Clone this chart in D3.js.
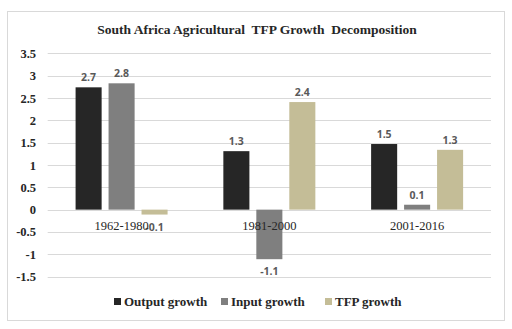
<!DOCTYPE html>
<html><head><meta charset="utf-8">
<script src="https://cdn.jsdelivr.net/npm/d3@7"></script>
<style>body{margin:0;background:#fff}</style>
</head><body><svg id="c" width="512" height="329"></svg>
<script>
const categories = ["1962-1980", "1981-2000", "2001-2016"];
const seriesNames = ["Output growth", "Input growth", "TFP growth"];
const outputGrowth = [2.74, 1.31, 1.47];
const inputGrowth = [2.83, -1.11, 0.11];
const tfpGrowth = [-0.11, 2.41, 1.34];
const labelsOutput = ["2.7", "1.3", "1.5"];
const labelsInput = ["2.8", "-1.1", "0.1"];
const labelsTfp = ["-0.1", "2.4", "1.3"];
const yTicks = [-1.5, -1, -0.5, 0, 0.5, 1, 1.5, 2, 2.5, 3, 3.5];
const colors = ["#262626", "#7f7f7f", "#c4bd97"];

const svg = d3.select("#c");
svg.append("rect").attr("x", 7.5).attr("y", 11.5).attr("width", 497).attr("height", 309)
  .attr("fill", "#fff").attr("stroke", "#d9d9d9");

const x0 = d3.scaleBand().domain(categories).range([47.7, 491]);
const x1 = d3.scaleBand().domain(seriesNames).range([0, 92]).paddingInner(0.21);
const y = d3.scaleLinear().domain([-1.5, 3.5]).range([276.6, 53.4]);

svg.append("g").selectAll("line").data(yTicks).join("line")
  .attr("x1", 47.7).attr("x2", 491).attr("y1", d => Math.round(y(d)) + 0.5).attr("y2", d => Math.round(y(d)) + 0.5)
  .attr("stroke", "#d9d9d9").attr("stroke-width", 1);

const yAxis = d3.axisLeft(y).tickValues(yTicks).tickSize(0).tickPadding(0).tickFormat(d => String(d));
const ya = svg.append("g").attr("transform", "translate(36,0)").call(yAxis);
ya.select(".domain").remove();
ya.selectAll("text").attr("font-family", "Liberation Serif").attr("font-weight", "bold")
  .attr("font-size", 12.5).attr("fill", "#262626");

const data = [outputGrowth, inputGrowth, tfpGrowth];
const labels = [labelsOutput, labelsInput, labelsTfp];
const rows = [];
categories.forEach((c, i) => seriesNames.forEach((s, j) => rows.push({c, s, j, v: data[j][i], l: labels[j][i]})));

const off = d => x0(d.c) + (x0.bandwidth() - 92) / 2 + x1(d.s);

svg.append("g").selectAll("rect").data(rows).join("rect")
  .attr("x", d => off(d)).attr("width", x1.bandwidth())
  .attr("y", d => y(Math.max(0, d.v))).attr("height", d => Math.abs(y(d.v) - y(0)))
  .attr("fill", d => colors[d.j]);

// value labels
svg.append("g").selectAll("text").data(rows).join("text")
  .attr("x", d => off(d) + x1.bandwidth() / 2)
  .attr("y", d => d.v >= 0 ? y(d.v) - 6 : y(d.v) + 16)
  .attr("text-anchor", "middle").attr("font-family", "Open Sans").attr("font-weight", "bold")
  .attr("font-size", 10.5).attr("fill", "#595959").text(d => d.l);

// category labels
svg.append("g").selectAll("text").data(categories).join("text")
  .attr("x", d => x0(d) + x0.bandwidth() / 2).attr("y", 230)
  .attr("text-anchor", "middle").attr("font-family", "Liberation Serif")
  .attr("font-size", 12.5).attr("fill", "#262626").text(d => d);

svg.append("text").attr("x", 257).attr("y", 34).attr("text-anchor", "middle")
  .attr("font-family", "Liberation Serif").attr("font-weight", "bold").attr("font-size", 13.5)
  .attr("fill", "#262626").attr("xml:space", "preserve").style("white-space", "pre")
  .text("South Africa Agricultural  TFP Growth  Decomposition");

// legend
const legX = [114, 221, 325];
const lg = svg.append("g").selectAll("g").data(seriesNames).join("g")
  .attr("transform", (d, i) => `translate(${legX[i]},301.5)`);
lg.append("rect").attr("x", 0).attr("y", -3.5).attr("width", 7).attr("height", 7).attr("fill", (d, i) => colors[i]);
lg.append("text").attr("x", 10).attr("y", 4.5).attr("font-family", "Liberation Serif").attr("font-weight", "bold")
  .attr("font-size", 13).attr("fill", "#262626").text(d => d);
</script></body></html>
